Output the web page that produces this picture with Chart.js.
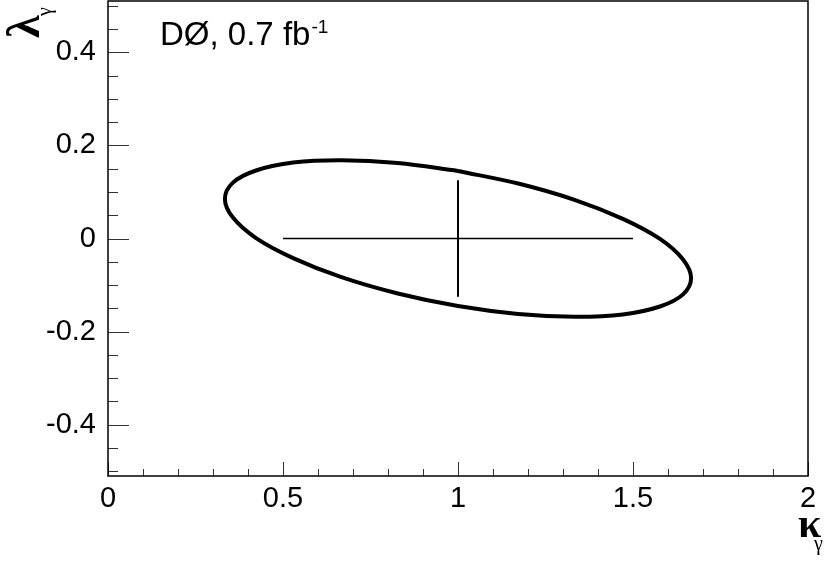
<!DOCTYPE html>
<html>
<head>
<meta charset="utf-8">
<script src="https://cdn.jsdelivr.net/npm/chart.js@4/dist/chart.umd.min.js"></script>
<style>
  html, body { margin: 0; padding: 0; background: #fff; }
  canvas { display: block; }
</style>
</head>
<body>
<canvas id="chart" width="830" height="564"></canvas>
<script>
'use strict';

// 68% contour (kappa, lambda), closed at the top
const contourKappa = [1.000, 0.828, 0.667, 0.529, 0.423, 0.357, 0.334, 0.357, 0.423, 0.529, 0.667, 0.828,
	1.000, 1.172, 1.333, 1.471, 1.577, 1.643, 1.666, 1.643, 1.577, 1.471, 1.333, 1.172, 1.000];
const contourLambda = [0.145, 0.162, 0.168, 0.163, 0.146, 0.120, 0.085, 0.045, 0.001, -0.042, -0.083, -0.118,
	-0.145, -0.162, -0.168, -0.163, -0.146, -0.120, -0.085, -0.045, -0.001, 0.042, 0.083, 0.118, 0.145];

// 1D limits drawn as a cross
const kappaLimit = [0.5, 1.5];
const lambdaLimit = [-0.125, 0.125];
const bestFit = [1.0, 0.0];

// axes
const xTicks = [0, 0.5, 1, 1.5, 2];
const yTicks = [-0.4, -0.2, 0, 0.2, 0.4];
const xRange = [0, 2];
const yRange = [-0.51, 0.51];
const xMinorStep = 0.1;
const yMinorStep = 0.05;

const labelText = 'DØ, 0.7 fb';
const labelSup = '-1';

const sans = '"Liberation Sans", Arial, Helvetica, sans-serif';
const serif = '"Liberation Serif", "DejaVu Serif", serif';

const zip = (xs, ys) => xs.map((x, i) => ({x, y: ys[i]}));

const frame = {
	id: 'frame',
	afterDatasetsDraw(chart) {
		const
			{ctx, chartArea: a} = chart,
			xs = chart.scales.x,
			ys = chart.scales.y;

		ctx.save();
		ctx.strokeStyle = '#333';
		ctx.lineWidth = 1;
		ctx.beginPath();

		for (let i = 0; i <= Math.round((xRange[1] - xRange[0]) / xMinorStep); i++) {
			const
				v = xRange[0] + i * xMinorStep,
				major = xTicks.some((t) => Math.abs(t - v) < 1e-6),
				px = Math.round(xs.getPixelForValue(v)) + 0.5;

			ctx.moveTo(px, a.bottom);
			ctx.lineTo(px, a.bottom - (major ? 14 : 7));
		}

		for (let i = -10; i <= 10; i++) {
			const
				v = i * yMinorStep,
				major = yTicks.some((t) => Math.abs(t - v) < 1e-6),
				py = Math.round(ys.getPixelForValue(v)) + 0.5;

			ctx.moveTo(a.left, py);
			ctx.lineTo(a.left + (major ? 21 : 10), py);
		}

		ctx.stroke();

		ctx.strokeStyle = '#000';
		ctx.lineWidth = 1.5;
		ctx.strokeRect(a.left, a.top, a.right - a.left, a.bottom - a.top);
		ctx.restore();
	},

	afterDraw(chart) {
		const {ctx} = chart;
		ctx.save();
		ctx.fillStyle = '#000';

		// experiment label
		ctx.font = '33px ' + sans;
		ctx.textBaseline = 'alphabetic';
		ctx.fillText(labelText, 160, 45);
		const w = ctx.measureText(labelText).width;
		ctx.font = '19px ' + sans;
		ctx.fillText(labelSup, 160 + w + 1, 33);

		// x title
		ctx.font = 'bold 42px ' + serif;
		ctx.fillText('κ', 798, 537);
		ctx.font = '20px ' + serif;
		ctx.fillText('γ', 814, 550);

		// y title, rotated
		ctx.translate(39, 38);
		ctx.rotate(-Math.PI / 2);
		ctx.font = 'bold 46px ' + serif;
		ctx.fillText('λ', 0, 0);
		ctx.font = '20px ' + serif;
		ctx.fillText('γ', 22, 12);
		ctx.restore();
	}
};

new Chart(document.getElementById('chart'), {
	type: 'scatter',
	data: {
		datasets: [
			{
				data: zip(contourKappa, contourLambda),
				showLine: true,
				borderColor: '#000',
				borderWidth: 4,
				tension: 0.35,
				pointRadius: 0
			},
			{
				data: zip(kappaLimit, [bestFit[1], bestFit[1]]),
				showLine: true,
				borderColor: '#000',
				borderWidth: 1.6,
				pointRadius: 0
			},
			{
				data: zip([bestFit[0], bestFit[0]], lambdaLimit),
				showLine: true,
				borderColor: '#000',
				borderWidth: 2,
				pointRadius: 0
			}
		]
	},
	options: {
		responsive: false,
		animation: false,
		events: [],
		layout: {padding: {top: 1, right: 22, left: 0, bottom: 0}},
		plugins: {legend: {display: false}, tooltip: {enabled: false}},
		scales: {
			x: {
				type: 'linear',
				min: xRange[0],
				max: xRange[1],
				grid: {display: false, drawTicks: false},
				border: {display: false},
				afterBuildTicks: (s) => { s.ticks = xTicks.map((value) => ({value})); },
				afterFit: (s) => {
					s.height = 88;
					s.paddingLeft = 0;
					s.paddingRight = 0;
				},
				ticks: {
					autoSkip: false,
					maxRotation: 0,
					padding: 6,
					color: '#000',
					font: {family: sans, size: 29},
					callback: (v) => String(v)
				}
			},
			y: {
				type: 'linear',
				min: yRange[0],
				max: yRange[1],
				grid: {display: false, drawTicks: false},
				border: {display: false},
				afterBuildTicks: (s) => { s.ticks = yTicks.map((value) => ({value})); },
				afterFit: (s) => {
					s.width = 108;
					s.paddingTop = 0;
					s.paddingBottom = 0;
				},
				ticks: {
					autoSkip: false,
					padding: 12,
					color: '#000',
					font: {family: sans, size: 29},
					callback: (v) => String(v)
				}
			}
		}
	},
	plugins: [frame]
});
</script>
</body>
</html>
